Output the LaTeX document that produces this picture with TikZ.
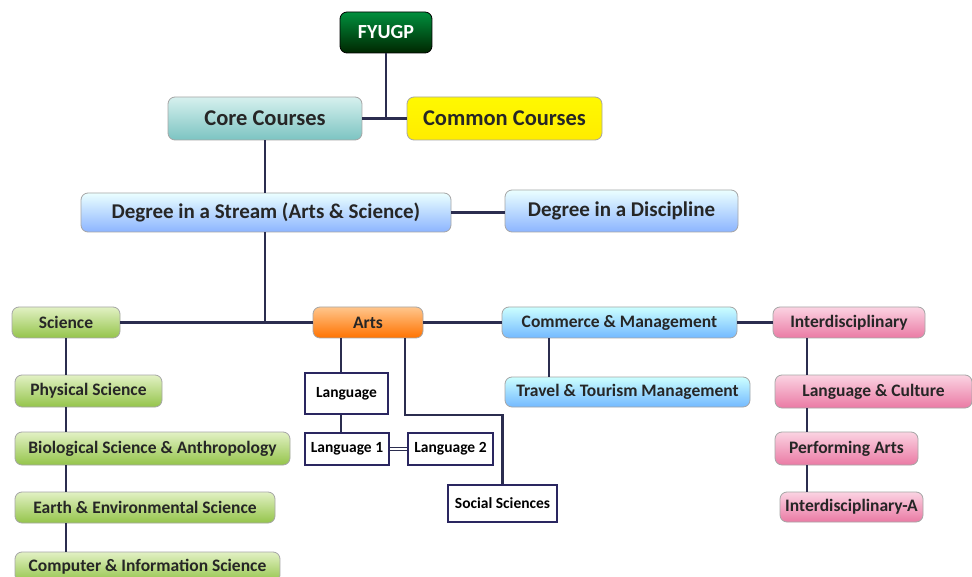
\documentclass[tikz,border=0pt]{standalone}
\usepackage{fontspec}
\setmainfont{Carlito}
\usetikzlibrary{calc}
\definecolor{linec}{HTML}{2B2D4F}
\definecolor{boxc}{HTML}{2A2660}
\definecolor{pinktop}{HTML}{FBD3E2}
\definecolor{pinkbot}{HTML}{EA7AA4}
\definecolor{greentop}{HTML}{E2F1C4}
\definecolor{greenbot}{HTML}{94C44A}
\definecolor{tealtop}{HTML}{D6F0EE}
\definecolor{tealbot}{HTML}{7CC4C2}
\tikzset{
  base/.style={draw=gray!70, line width=0.8pt, rounded corners=7pt, inner sep=0pt, align=center, font=\bfseries\fontsize{17.5}{19}\selectfont, text=black!85},
  fy/.style={base, draw=black, top color=green!40!teal!80!black, bottom color=black!85!green, text=white, font=\bfseries\fontsize{20}{22}\selectfont},
  tealbox/.style={base, top color=tealtop, bottom color=tealbot, font=\bfseries\fontsize{22.5}{24}\selectfont},
  yelbox/.style={base, top color=yellow!95!orange, bottom color=yellow!85!orange, font=\bfseries\fontsize{22.5}{24}\selectfont},
  bluebox/.style={base, top color=cyan!8, bottom color=cyan!35!blue!45, font=\bfseries\fontsize{21}{23}\selectfont},
  greenbox/.style={base, top color=greentop, bottom color=greenbot},
  orangebox/.style={base, top color=orange!45, bottom color=orange!90!red},
  combox/.style={base, top color=cyan!20, bottom color=cyan!50!blue!55},
  pinkbox/.style={base, top color=pinktop, bottom color=pinkbot},
  langbox/.style={draw=boxc, line width=2pt, fill=white, inner sep=0pt, font=\bfseries\fontsize{15.5}{17}\selectfont},
  conn/.style={draw=linec, line width=2.5pt}
}
\begin{document}
\begin{tikzpicture}[x=1pt,y=-1pt]
\useasboundingbox[fill=white] (0,0) rectangle (972,577);
\begin{scope}
\clip (0,0) rectangle (972,577);
\coordinate (fyx) at (386,0);
\coordinate (dsy) at (0,322.5);
\coordinate (scx) at (66,0);
\coordinate (alx) at (341,0);
\coordinate (turn) at (405,415);
\coordinate (cmx) at (549,0);
\coordinate (inx) at (807,0);

\node[fy, minimum width=92, minimum height=41] (fyugp) at (386,32.5) {FYUGP};
\node[tealbox, minimum width=194, minimum height=43] (core) at (265,118.5) {Core Courses};
\node[yelbox, minimum width=195, minimum height=43] (common) at (504.5,118.5) {Common Courses};
\node[bluebox, minimum width=370, minimum height=39] (ds) at (266,212.5) {Degree in a Stream (Arts \& Science)};
\node[bluebox, minimum width=233, minimum height=42] (dd) at (621.5,211) {Degree in a Discipline};

\node[greenbox, minimum width=108, minimum height=31] (sci) at (66,322.5) {Science};
\node[orangebox, minimum width=110, minimum height=31] (arts) at (368,322.5) {Arts};
\node[combox, minimum width=235, minimum height=31] (com) at (619.5,322.5) {Commerce \& Management};
\node[pinkbox, minimum width=152, minimum height=31] (inter) at (849,322.5) {Interdisciplinary};

\node[greenbox, minimum width=147, minimum height=32] (phys) at (88.5,391) {Physical Science};
\node[greenbox, minimum width=275, minimum height=33] (bio) at (152.5,448.5) {Biological Science \& Anthropology};
\node[greenbox, minimum width=260, minimum height=31] (earth) at (145,507.5) {Earth \& Environmental Science};
\node[greenbox, minimum width=265, minimum height=30] (comp) at (147.5,567) {Computer \& Information Science};

\node[langbox, minimum width=83, minimum height=41] (lang) at (346.5,393.5) {Language};
\node[langbox, minimum width=84, minimum height=32] (lang1) at (347,449) {Language 1};
\node[langbox, minimum width=85, minimum height=32] (lang2) at (450.5,449) {Language 2};
\node[langbox, minimum width=109, minimum height=37] (soc) at (502.5,503.5) {Social Sciences};

\node[combox, minimum width=245, minimum height=30] (travel) at (627.5,392) {Travel \& Tourism Management};
\node[pinkbox, minimum width=197, minimum height=33] (langc) at (873.5,391.5) {Language \& Culture};
\node[pinkbox, minimum width=143, minimum height=33] (perf) at (846.5,448.5) {Performing Arts};
\node[pinkbox, minimum width=143, minimum height=30] (intera) at (851.5,507) {Interdisciplinary-A};
\end{scope}
% connectors
\draw[conn] (fyugp.south) -- (fyx |- core.east);
\draw[conn] (core.east) -- (common.west);
\draw[conn] (core.south) -- (ds.north -| core.south);
\draw[conn] (ds.east) -- (dd.west |- ds.east);
\draw[conn] (ds.south -| core.south) -- (core.south |- dsy);
\draw[conn] (sci.east) -- (arts.west);
\draw[conn] (arts.east) -- (com.west);
\draw[conn] (com.east) -- (inter.west);
\draw[conn] (sci.south) -- (scx |- phys.north);
\draw[conn] (scx |- phys.south) -- (scx |- bio.north);
\draw[conn] (scx |- bio.south) -- (scx |- earth.north);
\draw[conn] (scx |- earth.south) -- (scx |- comp.north);
\draw[conn] (alx |- arts.south) -- (alx |- lang.north);
\draw[conn] (alx |- lang.south) -- (alx |- lang1.north);
\draw[draw=linec, line width=1.5pt, double=white, double distance=1.5pt] (lang1.east) -- (lang2.west);
\draw[conn] (turn |- arts.south) -- (turn) -- (turn -| soc.north) -- (soc.north);
\draw[conn] (cmx |- com.south) -- (cmx |- travel.north);
\draw[conn] (inx |- inter.south) -- (inx |- langc.north);
\draw[conn] (inx |- langc.south) -- (inx |- perf.north);
\draw[conn] (inx |- perf.south) -- (inx |- intera.north);
\end{tikzpicture}
\end{document}
